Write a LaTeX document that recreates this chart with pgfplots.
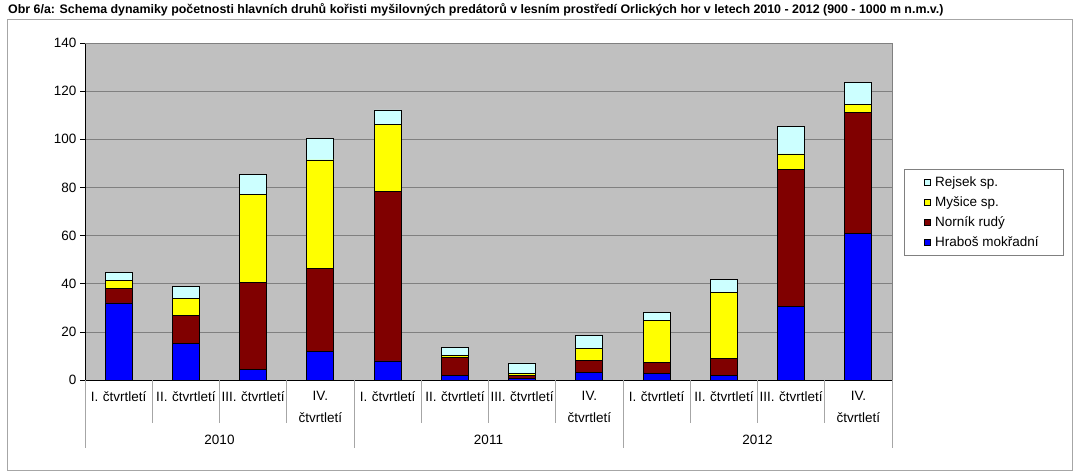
\documentclass[border=0pt]{standalone}
\usepackage{pgfplots}
\pgfplotsset{compat=1.18}
\usepackage{pgfplotstable}
\usepackage{fontspec}
\setmainfont{Liberation Sans}
\definecolor{cBlue}{HTML}{0000FF}
\definecolor{cRed}{HTML}{800000}
\definecolor{cYel}{HTML}{FFFF00}
\definecolor{cCyan}{HTML}{CCFFFF}
\definecolor{cBg}{HTML}{C0C0C0}
\definecolor{cGrid}{HTML}{808080}
\definecolor{cFrame}{HTML}{A6A6A6}
\pgfplotstableread{
x blue red yellow cyan
1 32.0 6.2 3.0 3.5
2 15.0 11.7 7.2 5.0
3 4.4 36.2 36.3 8.4
4 11.8 34.7 44.9 9.0
5 7.9 70.3 27.9 6.1
6 1.8 7.4 1.1 3.2
7 0.7 1.2 0.9 4.3
8 3.2 5.1 4.8 5.5
9 2.8 4.4 17.7 3.0
10 1.9 7.0 27.6 5.2
11 30.4 57.0 6.5 11.5
12 61.0 50.1 3.5 9.1
}\datatable
\newcommand{\lab}{\fontsize{13.5}{19}\selectfont}
\begin{document}
\begin{tikzpicture}
\path[use as bounding box] (0,0) rectangle (1081pt,476pt);
\draw[cFrame, line width=0.8pt] (7pt,6pt) rectangle (1072pt,457pt);
\node[anchor=base west, inner sep=0pt, font=\bfseries\fontsize{12.4}{14}\selectfont] at (8pt,462pt)
  {Obr 6/a: Schema dynamiky početnosti hlavních druhů kořisti myšilovných predátorů v lesním prostředí Orlických hor v letech 2010 - 2012 (900 - 1000 m n.m.v.)};
\begin{axis}[
  at={(85pt,96pt)}, anchor=south west,
  width=807pt, height=337pt, scale only axis,
  xmin=0.5, xmax=12.5, ymin=0, ymax=140,
  ybar stacked, bar width=27pt,
  ytick={0,20,...,140},
  xtick={1,...,12},
  xticklabels={I. čtvrtletí,II. čtvrtletí,III. čtvrtletí,{IV.\\[3pt]čtvrtletí},I. čtvrtletí,II. čtvrtletí,III. čtvrtletí,{IV.\\[3pt]čtvrtletí},I. čtvrtletí,II. čtvrtletí,III. čtvrtletí,{IV.\\[3pt]čtvrtletí}},
  xticklabel style={font=\lab, align=center, text width=67pt, anchor=north, yshift=-3pt},
  yticklabel style={font=\lab},
  /pgf/number format/assume math mode=true,
  xtick style={draw=none},
  ytick style={black, line width=0.6pt},
  tick align=outside, major tick length=5pt,
  axis x line*=bottom, axis y line*=left,
  axis line style={black, line width=0.8pt, -},
  ymajorgrids, grid style={cGrid, line width=0.6pt},
  axis background/.style={fill=cBg},
  clip=false,
  reverse legend,
  legend cell align=left,
  legend style={at={(rel axis cs:1.0149,0.626)}, anchor=north west, draw=cGrid, line width=0.6pt,
    font=\lab, inner xsep=20pt, inner ysep=3pt, row sep=0pt,
    nodes={inner sep=4.3pt}},
  legend image code/.code={\draw[#1,draw=black,line width=0.5pt] (0pt,-3pt) rectangle (6pt,3pt);},
  every axis plot/.append style={draw=black, line width=0.8pt},
]
\draw[cGrid, line width=0.6pt] (rel axis cs:0,1) -- (rel axis cs:1,1) -- (rel axis cs:1,0);
\addplot[fill=cBlue] table[x=x,y=blue]{\datatable};
\addplot[fill=cRed] table[x=x,y=red]{\datatable};
\addplot[fill=cYel] table[x=x,y=yellow]{\datatable};
\addplot[fill=cCyan] table[x=x,y=cyan]{\datatable};
\legend{Hraboš mokřadní,Norník rudý,Myšice sp.,Rejsek sp.}
\pgfplotsinvokeforeach{1.5,2.5,3.5,5.5,6.5,7.5,9.5,10.5,11.5}{
  \draw[cFrame, line width=0.6pt] (axis cs:#1,0) -- ++(0pt,-43pt);
}
\pgfplotsinvokeforeach{0.5,4.5,8.5,12.5}{
  \draw[cFrame, line width=0.6pt] (axis cs:#1,0) -- ++(0pt,-68pt);
}
\node[font=\lab, anchor=base] at ([yshift=-65pt]axis cs:2.5,0) {2010};
\node[font=\lab, anchor=base] at ([yshift=-65pt]axis cs:6.5,0) {2011};
\node[font=\lab, anchor=base] at ([yshift=-65pt]axis cs:10.5,0) {2012};
\end{axis}
\end{tikzpicture}
\end{document}
